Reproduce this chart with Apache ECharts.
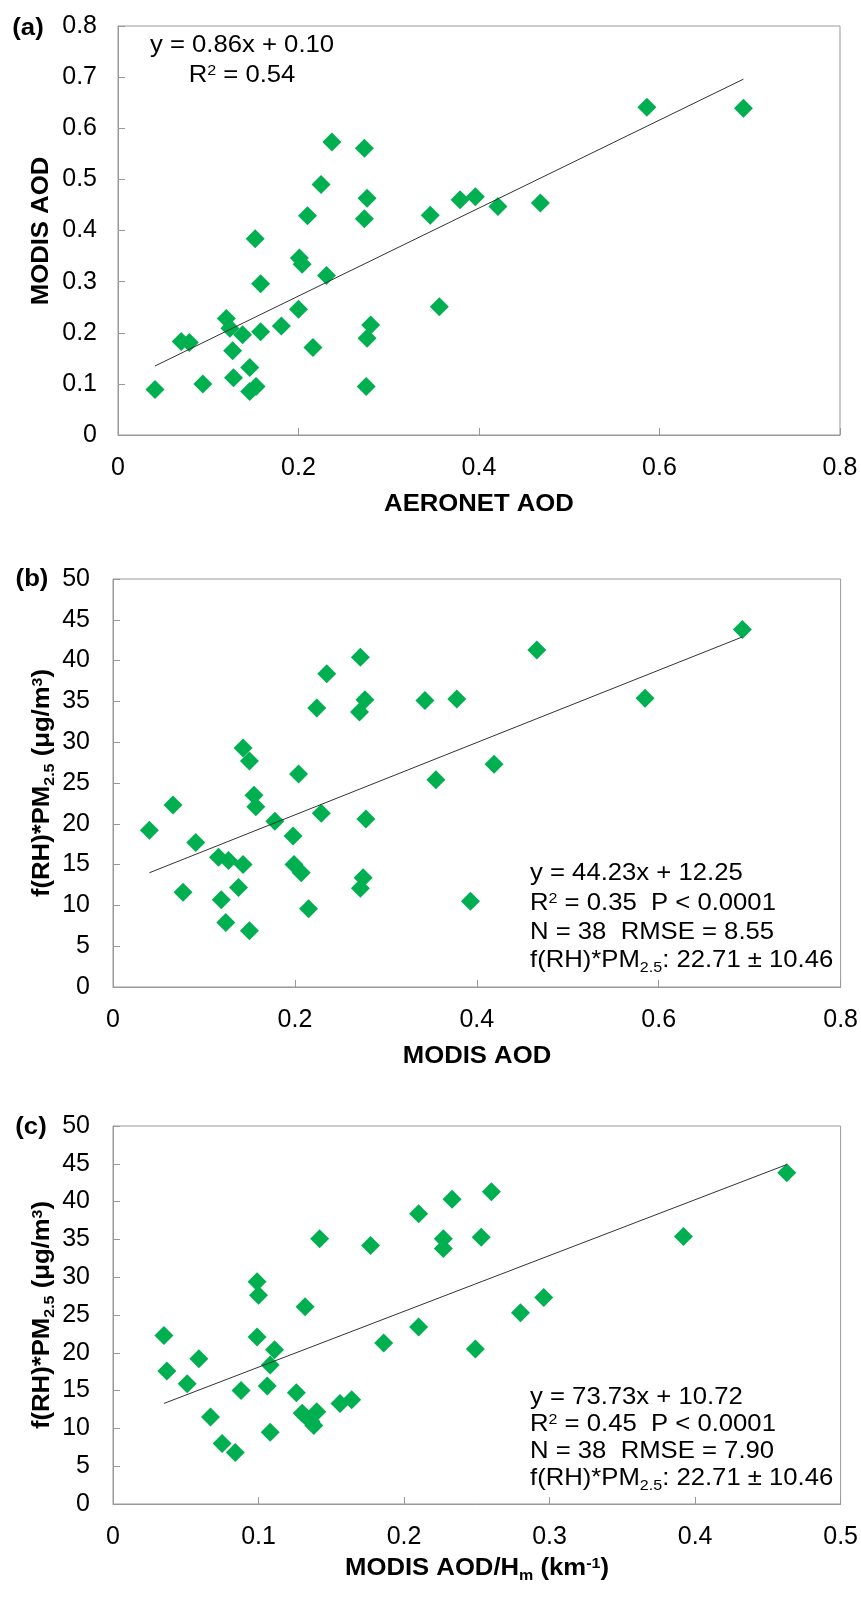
<!DOCTYPE html>
<html>
<head>
<meta charset="utf-8">
<script src="https://cdn.jsdelivr.net/npm/echarts@6/dist/echarts.min.js"></script>
<style>
html,body{margin:0;padding:0;background:#fff;}
#c{width:861px;height:1624px;}
</style>
</head>
<body>
<div id="c"></div>
<script>
// ---------- Panel (a): AERONET AOD vs MODIS AOD ----------
const aeronetA = [0.041,0.070,0.079,0.094,0.120,0.124,0.127,0.128,0.138,0.146,0.146,0.153,0.152,0.158,0.158,0.181,0.200,0.201,0.204,0.210,0.216,0.225,0.231,0.237,0.273,0.276,0.273,0.280,0.276,0.275,0.346,0.356,0.379,0.396,0.421,0.468,0.586,0.693];
const modisA   = [0.089,0.183,0.181,0.100,0.228,0.209,0.165,0.112,0.196,0.132,0.085,0.095,0.384,0.296,0.202,0.213,0.246,0.346,0.334,0.429,0.171,0.490,0.312,0.573,0.561,0.463,0.423,0.215,0.189,0.095,0.430,0.251,0.460,0.466,0.447,0.454,0.641,0.639];
const trendA   = [[0.041,0.135],[0.693,0.696]];

// ---------- Panel (b): MODIS AOD vs f(RH)*PM2.5 ----------
const aodB = [0.040,0.066,0.077,0.091,0.116,0.127,0.119,0.124,0.138,0.143,0.150,0.143,0.150,0.155,0.157,0.178,0.198,0.199,0.207,0.204,0.215,0.224,0.229,0.235,0.272,0.277,0.271,0.278,0.275,0.272,0.343,0.355,0.378,0.393,0.419,0.466,0.585,0.692];
const pmB  = [19.2,22.3,11.6,17.7,15.9,15.5,10.7,7.9,12.2,29.3,27.7,15.0,6.9,23.5,22.1,20.3,18.5,15.0,14.0,26.1,9.6,34.2,21.3,38.4,40.4,35.2,33.7,20.6,13.4,12.1,35.1,25.4,35.3,10.5,27.3,41.3,35.4,43.8];
const trendB = [[0.040,14.0],[0.692,42.9]];

// ---------- Panel (c): MODIS AOD/Hm vs f(RH)*PM2.5 ----------
const aodHmC = [0.035,0.037,0.051,0.059,0.067,0.075,0.084,0.088,0.099,0.100,0.099,0.111,0.108,0.106,0.108,0.126,0.130,0.140,0.138,0.136,0.132,0.142,0.156,0.164,0.177,0.186,0.210,0.210,0.233,0.227,0.227,0.253,0.260,0.392,0.463,0.280,0.296,0.249];
const pmC    = [22.3,17.6,15.9,19.2,11.5,8.0,6.8,15.0,29.4,27.6,22.1,20.4,18.4,15.6,9.5,14.7,12.0,12.2,10.4,10.9,26.1,35.1,13.3,13.8,34.2,21.3,38.4,23.4,40.3,35.1,33.8,35.3,41.3,35.4,43.8,25.3,27.3,20.5];
const trendC = [[0.035,13.3],[0.463,44.9]];

// ---------- Tick labels ----------
const ticksA_x = ['0','0.2','0.4','0.6','0.8'];
const ticksA_y = ['0','0.1','0.2','0.3','0.4','0.5','0.6','0.7','0.8'];
const ticksB_x = ['0','0.2','0.4','0.6','0.8'];
const ticksB_y = ['0','5','10','15','20','25','30','35','40','45','50'];
const ticksC_x = ['0','0.1','0.2','0.3','0.4','0.5'];
const ticksC_y = ['0','5','10','15','20','25','30','35','40','45','50'];

const FONT = 'Liberation Sans, Arial, sans-serif';
const GREEN = '#00B050';
const AXIS_GRAY = '#999999';

function pairs(xs, ys){ return xs.map((x,i)=>[x, ys[i]]); }
function fmt(labels){ return v => { const l = labels.find(s => Math.abs(parseFloat(s) - v) < 1e-9); return l === undefined ? '' : l; }; }

function xAxisDef(gi, max, interval, labels){
  return {type:'value', gridIndex:gi, min:0, max:max, interval:interval,
    axisLine:{show:true, lineStyle:{color:AXIS_GRAY, width:1}},
    axisTick:{show:true, inside:true, length:7, lineStyle:{color:AXIS_GRAY}},
    splitLine:{show:false},
    axisLabel:{show:true, margin:21, fontSize:25, fontFamily:FONT, color:'#000', formatter:fmt(labels), showMinLabel:true, showMaxLabel:true}
  };
}
function yAxisDef(gi, max, interval, labels, margin){
  return {type:'value', gridIndex:gi, min:0, max:max, interval:interval,
    axisLine:{show:true, lineStyle:{color:AXIS_GRAY, width:1}},
    axisTick:{show:true, inside:true, length:7, lineStyle:{color:AXIS_GRAY}},
    splitLine:{show:false},
    axisLabel:{show:true, margin:margin, fontSize:25, fontFamily:FONT, color:'#000', formatter:fmt(labels), showMinLabel:true, showMaxLabel:true}
  };
}
function scatterDef(i, data){
  return {type:'scatter', xAxisIndex:i, yAxisIndex:i, data:data, symbol:'diamond', symbolSize:19,
    itemStyle:{color:GREEN, opacity:1}, z:2, silent:true};
}
function trendDef(i, data){
  return {type:'line', xAxisIndex:i, yAxisIndex:i, data:data, showSymbol:false, symbol:'none',
    lineStyle:{color:'#333', width:1}, z:5, silent:true};
}

const supSty = {fontSize:15, fontFamily:FONT, fill:'#000', padding:[0,0,8,0]};
const subSty = {fontSize:15, fontFamily:FONT, fill:'#000', padding:[16,0,0,0]};
const supBold = Object.assign({}, supSty, {fontWeight:'bold'});
const subBold = Object.assign({}, subSty, {fontWeight:'bold'});

function txt(x, y, text, opts){
  opts = opts || {};
  return {type:'text', x:x, y:y, rotation:opts.rotation || 0, scaleX:1.07, silent:true, z:100,
    style:{text:text, fontSize:opts.fontSize || 24, fontFamily:FONT, fontWeight:opts.bold ? 'bold' : 'normal',
      fill:'#000', align:opts.align || 'center', verticalAlign:'middle',
      rich: opts.bold ? {sup:supBold, sub:subBold} : {sup:supSty, sub:subSty}}};
}

const chart = echarts.init(document.getElementById('c'), null, {renderer:'canvas', width:861, height:1624});

const option = {
  animation:false,
  backgroundColor:'#fff',
  grid:[
    {left:118, top:26, width:722, height:409, show:true, borderColor:AXIS_GRAY, borderWidth:1, backgroundColor:'transparent', containLabel:false},
    {left:113, top:579, width:728, height:408, show:true, borderColor:AXIS_GRAY, borderWidth:1, backgroundColor:'transparent', containLabel:false},
    {left:113, top:1126, width:728, height:378, show:true, borderColor:AXIS_GRAY, borderWidth:1, backgroundColor:'transparent', containLabel:false}
  ],
  xAxis:[
    xAxisDef(0, 0.8, 0.2, ticksA_x),
    xAxisDef(1, 0.8, 0.2, ticksB_x),
    xAxisDef(2, 0.5, 0.1, ticksC_x)
  ],
  yAxis:[
    yAxisDef(0, 0.8, 0.1, ticksA_y, 21),
    yAxisDef(1, 50, 5, ticksB_y, 23),
    yAxisDef(2, 50, 5, ticksC_y, 23)
  ],
  series:[
    scatterDef(0, pairs(aeronetA, modisA)),
    trendDef(0, trendA),
    scatterDef(1, pairs(aodB, pmB)),
    trendDef(1, trendB),
    scatterDef(2, pairs(aodHmC, pmC)),
    trendDef(2, trendC)
  ],
  graphic:[
    // panel labels
    txt(28, 28, '(a)', {bold:true}),
    txt(32, 579, '(b)', {bold:true}),
    txt(31, 1127, '(c)', {bold:true}),
    // axis titles
    txt(479, 504, 'AERONET AOD', {bold:true}),
    txt(41, 231, 'MODIS AOD', {bold:true, rotation:Math.PI/2}),
    txt(477, 1056, 'MODIS AOD', {bold:true}),
    txt(42, 783, 'f(RH)*PM{sub|2.5} (μg/m{sup|3})', {bold:true, rotation:Math.PI/2}),
    txt(477, 1568, 'MODIS AOD/H{sub|m} (km{sup|-1})', {bold:true}),
    txt(42, 1315, 'f(RH)*PM{sub|2.5} (μg/m{sup|3})', {bold:true, rotation:Math.PI/2}),
    // annotations (a)
    txt(242, 45, 'y = 0.86x + 0.10'),
    txt(242, 75, 'R{sup|2} = 0.54'),
    // annotations (b)
    txt(530, 873, 'y = 44.23x + 12.25', {align:'left'}),
    txt(530, 903, 'R{sup|2} = 0.35  P < 0.0001', {align:'left'}),
    txt(530, 932, 'N = 38  RMSE = 8.55', {align:'left'}),
    txt(530, 960, 'f(RH)*PM{sub|2.5}: 22.71 ± 10.46', {align:'left'}),
    // annotations (c)
    txt(530, 1397, 'y = 73.73x + 10.72', {align:'left'}),
    txt(530, 1424, 'R{sup|2} = 0.45  P < 0.0001', {align:'left'}),
    txt(530, 1451, 'N = 38  RMSE = 7.90', {align:'left'}),
    txt(530, 1478, 'f(RH)*PM{sub|2.5}: 22.71 ± 10.46', {align:'left'})
  ]
};
chart.setOption(option);
</script>
</body>
</html>
